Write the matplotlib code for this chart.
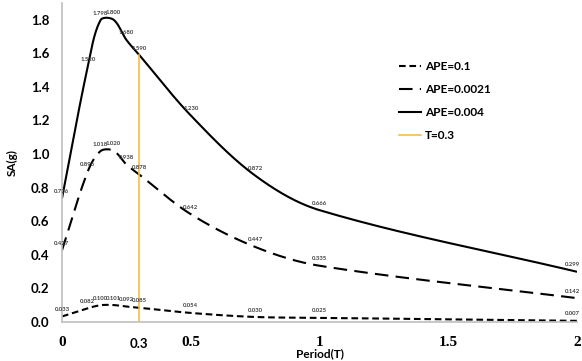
import numpy as np
import matplotlib
matplotlib.use("Agg")
import matplotlib.pyplot as plt
from matplotlib.lines import Line2D

# Spectral acceleration data
periods = [0, 0.1, 0.15, 0.2, 0.25, 0.3, 0.5, 0.75, 1, 2]
sa_ape_01 = [0.033, 0.082, 0.100, 0.101, 0.092, 0.085, 0.054, 0.030, 0.025, 0.007]
sa_ape_00021 = [0.427, 0.896, 1.018, 1.020, 0.938, 0.878, 0.642, 0.447, 0.335, 0.142]
sa_ape_0004 = [0.736, 1.520, 1.798, 1.800, 1.680, 1.590, 1.230, 0.872, 0.666, 0.299]
t_line = 0.3
t_line_top = 1.590

x_ticks = [0, 0.5, 1, 1.5, 2]
x_tick_labels = ["0", "0.5", "1", "1.5", "2"]
y_ticks = [0.0, 0.2, 0.4, 0.6, 0.8, 1.0, 1.2, 1.4, 1.6, 1.8]

SANS = ["Lato", "DejaVu Sans"]
SERIF = ["Liberation Serif", "DejaVu Serif"]


def smooth(xs, ys, sx=257.5, sy=168.0, n=40):
    """Smoothed line through the points (Bezier, chord-length tangents)"""
    p = np.column_stack([np.asarray(xs) * sx, np.asarray(ys) * sy])
    m = len(p)
    tang = np.zeros_like(p)
    for i in range(m):
        a = p[max(i - 1, 0)]
        b = p[min(i + 1, m - 1)]
        d = np.linalg.norm(b - p[i]) + np.linalg.norm(p[i] - a)
        tang[i] = (b - a) / d
    out = []
    for i in range(m - 1):
        p1, p2 = p[i], p[i + 1]
        L = np.linalg.norm(p2 - p1)
        c1 = p1 + tang[i] * L / 3.0
        c2 = p2 - tang[i + 1] * L / 3.0
        t = np.linspace(0, 1, n)[:, None]
        seg = ((1 - t) ** 3) * p1 + 3 * ((1 - t) ** 2) * t * c1 + 3 * (1 - t) * t ** 2 * c2 + t ** 3 * p2
        out.append(seg if i == 0 else seg[1:])
    out = np.vstack(out)
    return out[:, 0] / sx, out[:, 1] / sy


fig = plt.figure(figsize=(5.82, 3.61), dpi=100)
ax = fig.add_axes([0.1065, 0.108, 0.885, 0.884])

series = [
    (sa_ape_01, "APE=0.1", (0, (3.2, 1.8))),
    (sa_ape_00021, "APE=0.0021", (0, (6.5, 3.5))),
    (sa_ape_0004, "APE=0.004", "-"),
]
handles = []
for vals, name, ls in series:
    sx_, sy_ = smooth(periods, vals)
    ax.plot(sx_, sy_, color="black", lw=1.5, linestyle=ls, solid_capstyle="butt")
    handles.append(Line2D([], [], color="black", lw=1.5, linestyle=ls, label=name))
    for px, py in zip(periods, vals):
        dx = -3.5 if px == periods[-1] else 0
        ax.annotate(f"{py:.3f}", (px, py), xytext=(dx, 3.2), textcoords="offset points",
                    ha="center", va="bottom", fontsize=4.3, fontweight="bold",
                    color="#404040", family=SANS, annotation_clip=False)

ax.plot([t_line, t_line], [0, t_line_top], color="#F5BE3F", lw=1.2)
handles.append(Line2D([], [], color="#F5BE3F", lw=1.2, label="T=0.3"))

ax.set_xlim(0, 2)
ax.set_ylim(0, 1.9)
ax.set_xticks(x_ticks)
ax.set_xticklabels(x_tick_labels, family=SERIF, fontweight="bold", fontsize=11)
ax.set_yticks(y_ticks)
ax.set_yticklabels([f"{v:.1f}" for v in y_ticks], family=SANS, fontweight="bold", fontsize=9.5)
ax.tick_params(axis="both", length=0)
ax.tick_params(axis="x", pad=10)
ax.tick_params(axis="y", pad=9)

ax.text(0.3, -0.05, "0.3", transform=ax.get_xaxis_transform(), ha="center", va="top",
        family=SANS, fontweight="bold", fontsize=9.5)
ax.set_xlabel("Period(T)", family=SANS, fontweight="bold", fontsize=8.5)
ax.xaxis.set_label_coords(0.5, -0.082)
ax.set_ylabel("SA(g)", family=SANS, fontweight="bold", fontsize=8.5)
ax.yaxis.set_label_coords(-0.085, 0.5)

for side in ("top", "right"):
    ax.spines[side].set_visible(False)
for side in ("left", "bottom"):
    ax.spines[side].set_color("#BFBFBF")
    ax.spines[side].set_linewidth(1.2)

leg = ax.legend(handles=handles, loc="upper left", bbox_to_anchor=(0.633, 0.85),
                frameon=False, handlelength=1.9, handletextpad=0.3, labelspacing=1.0,
                prop={"family": SANS, "weight": "bold", "size": 8.5})

fig.savefig("out.png", dpi=100)
